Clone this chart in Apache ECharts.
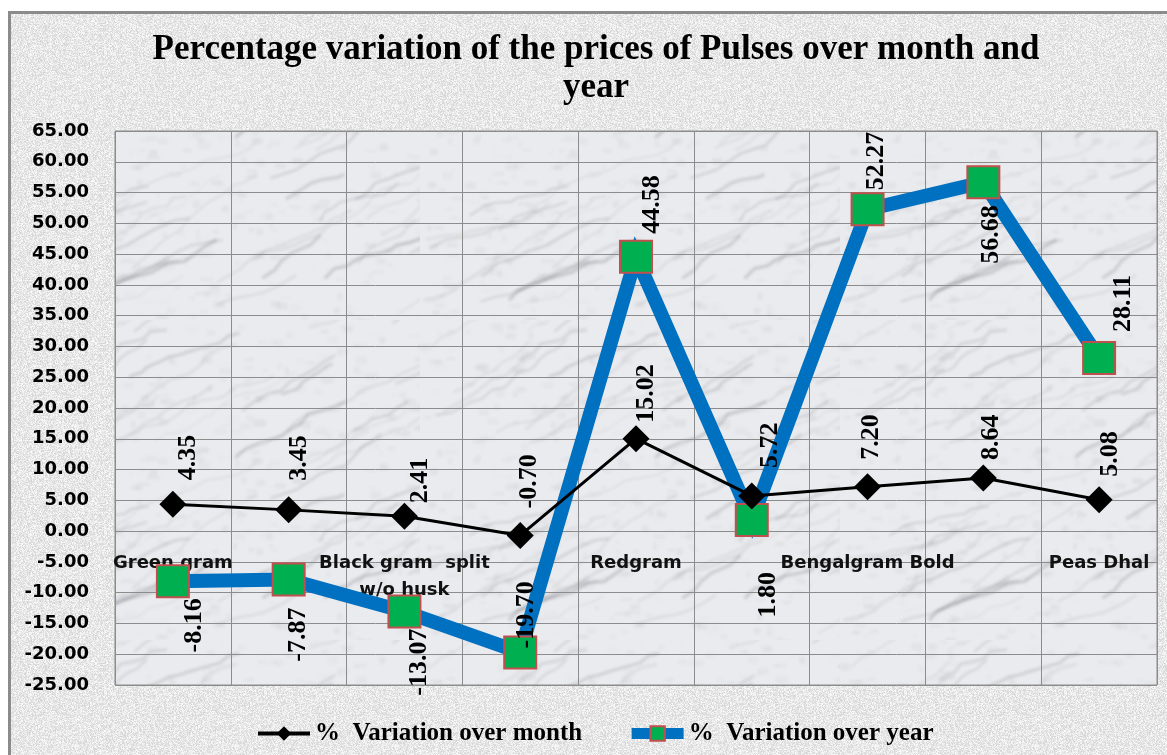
<!DOCTYPE html>
<html lang="en">
<head>
    <meta charset="UTF-8">
    <title>Pulses price variation</title>
    <script src="https://cdn.jsdelivr.net/npm/echarts@6/dist/echarts.min.js"></script>
    <style>
        html,body{margin:0;padding:0;width:1167px;height:755px;background:#fff;overflow:hidden;}
        .frame{position:absolute;left:8px;top:11px;width:1170px;height:760px;border-left:3px solid #8b8b8b;border-top:3px solid #8b8b8b;background:#e4e4e4;}
        #chart{position:absolute;left:0;top:0;width:1167px;height:755px;}
    </style>
</head>
<body>
<div class="frame" id="frame"></div>
<div id="chart"></div>
<script>
    // data
    let categories = ['Green gram', 'Black gram', 'Black gram  split\nw/o husk', 'Black gram dhal',
        'Redgram', 'Redgram dhal', 'Bengalgram Bold', 'Bengalgram dhal', 'Peas Dhal'];
    let monthVar = [4.35, 3.45, 2.41, -0.70, 15.02, 5.72, 7.20, 8.64, 5.08];
    let yearVar = [-8.16, -7.87, -13.07, -19.70, 44.58, 1.80, 52.27, 56.68, 28.11];
    let seriesNames = ['%  Variation over month', '%  Variation over year'];

    // label placement (style only): side, gap from point, shift right
    let monthSide = ['up', 'up', 'up', 'up', 'up', 'up', 'up', 'up', 'up'];
    let monthGap = [24, 29, 13, 27, 16, 28, 27, 18, 23];
    let monthDx = [15, 11, 16, 9, 10, 19, 4, 8, 11];
    let yearSide = ['down', 'down', 'down', 'up', 'up', 'down', 'up', 'down', 'up'];
    let yearGap = [17, 28, 17, 4, 23, 52, 19, 23, 26];
    let yearDx = [21, 10, 15, 6, 16, 17, 9, 8, 24];

    // simple seeded generator for the paper textures
    function seeded(s) {
        return function () {
            s = (s * 1103515245 + 12345) % 2147483648;
            return s / 2147483648;
        };
    }

    function speckle() {
        let c = document.createElement('canvas');
        c.width = 160; c.height = 160;
        let ctx = c.getContext('2d');
        let img = ctx.createImageData(160, 160);
        let r = seeded(7);
        for (let i = 0; i < img.data.length; i += 4) {
            let v = 212 + Math.floor(r() * 40);
            img.data[i] = v; img.data[i + 1] = v; img.data[i + 2] = v; img.data[i + 3] = 255;
        }
        ctx.putImageData(img, 0, 0);
        return c;
    }

    function marble() {
        let c = document.createElement('canvas');
        c.width = 420; c.height = 320;
        let ctx = c.getContext('2d');
        ctx.fillStyle = '#eaebee';
        ctx.fillRect(0, 0, 420, 320);
        let r = seeded(31);
        ctx.filter = 'blur(1.6px)';
        for (let i = 0; i < 60; i++) {
            let x = r() * 420, y = r() * 320;
            ctx.beginPath();
            ctx.moveTo(x, y);
            let steps = 5 + Math.floor(r() * 10);
            for (let k = 0; k < steps; k++) {
                x += 5 + r() * 12;
                y -= 1 + r() * 9;
                ctx.lineTo(x, y);
            }
            ctx.strokeStyle = 'rgba(100,100,110,' + (0.08 + r() * 0.2) + ')';
            ctx.lineWidth = 0.8 + r() * 2.2;
            ctx.stroke();
        }
        for (let i = 0; i < 500; i++) {
            ctx.fillStyle = 'rgba(130,130,140,' + (r() * 0.1) + ')';
            ctx.fillRect(r() * 420, r() * 320, 3 + r() * 10, 2 + r() * 5);
        }
        ctx.filter = 'none';
        return c;
    }

    document.getElementById('frame').style.backgroundImage = 'url(' + speckle().toDataURL() + ')';

    function lbl(side, gap, dx) {
        let base = {show: true, position: 'inside', rotate: 90, verticalAlign: 'middle',
            color: '#000', fontFamily: 'Liberation Serif', fontWeight: 'bold', fontSize: 26,
            formatter: p => p.value.toFixed(2)};
        if (side === 'up') return Object.assign(base, {align: 'left', offset: [gap, dx]});
        return Object.assign(base, {align: 'right', offset: [-gap, dx]});
    }

    let monthData = monthVar.map((v, i) => ({value: v, label: lbl(monthSide[i], monthGap[i], monthDx[i])}));
    let yearData = yearVar.map((v, i) => ({value: v, label: lbl(yearSide[i], yearGap[i], yearDx[i])}));

    let myChart = echarts.init(document.getElementById('chart'));
    let option = {
        animation: false,
        backgroundColor: 'transparent',
        graphic: [{
            type: 'text', x: 596, y: 69,
            style: {
                text: 'Percentage variation of the prices of Pulses over month and\nyear',
                align: 'center', verticalAlign: 'middle', lineHeight: 38,
                font: 'bold 35px "Liberation Serif"', fill: '#000'
            }
        }],
        grid: {
            left: 115, right: 10, top: 131, bottom: 70,
            show: true, borderColor: '#8c8c8c', borderWidth: 1,
            backgroundColor: {image: marble(), repeat: 'repeat'}
        },
        legend: {
            left: 251, top: 716, itemWidth: 52, itemHeight: 18, itemGap: 44,
            textStyle: {fontFamily: 'Liberation Serif', fontWeight: 'bold', fontSize: 25, color: '#000'},
            data: [
                {name: seriesNames[0], lineStyle: {width: 4}},
                {name: seriesNames[1], lineStyle: {width: 11}}
            ]
        },
        xAxis: {
            type: 'category',
            data: categories,
            // the horizontal axis crosses the value axis at 0
            offset: -154,
            axisLine: {onZero: false, lineStyle: {color: '#8c8c8c', width: 1}},
            axisTick: {show: false},
            axisLabel: {
                interval: 1, margin: 19, color: '#111', lineHeight: 27,
                fontFamily: 'DejaVu Sans', fontWeight: 'bold', fontSize: 18
            },
            splitLine: {show: true, interval: 0, lineStyle: {color: '#8c8c8c', width: 1}}
        },
        yAxis: {
            type: 'value',
            min: -25, max: 65, interval: 5,
            axisLine: {show: false},
            axisTick: {show: false},
            axisLabel: {
                margin: 26, color: '#000', fontFamily: 'DejaVu Sans', fontWeight: 'bold', fontSize: 18,
                formatter: v => v.toFixed(2)
            },
            splitLine: {lineStyle: {color: '#8c8c8c', width: 1}}
        },
        series: [
            {
                name: seriesNames[0],
                type: 'line',
                data: monthData,
                symbol: 'diamond',
                symbolSize: 27,
                lineStyle: {color: '#000', width: 3},
                itemStyle: {color: '#000'},
                z: 3
            },
            {
                name: seriesNames[1],
                type: 'line',
                data: yearData,
                symbol: 'rect',
                symbolSize: 32,
                lineStyle: {color: '#0070C0', width: 14, join: 'miter'},
                itemStyle: {color: '#00B050', borderColor: '#C0504D', borderWidth: 2},
                z: 2
            }
        ]
    };
    myChart.setOption(option);
</script>
</body>
</html>
